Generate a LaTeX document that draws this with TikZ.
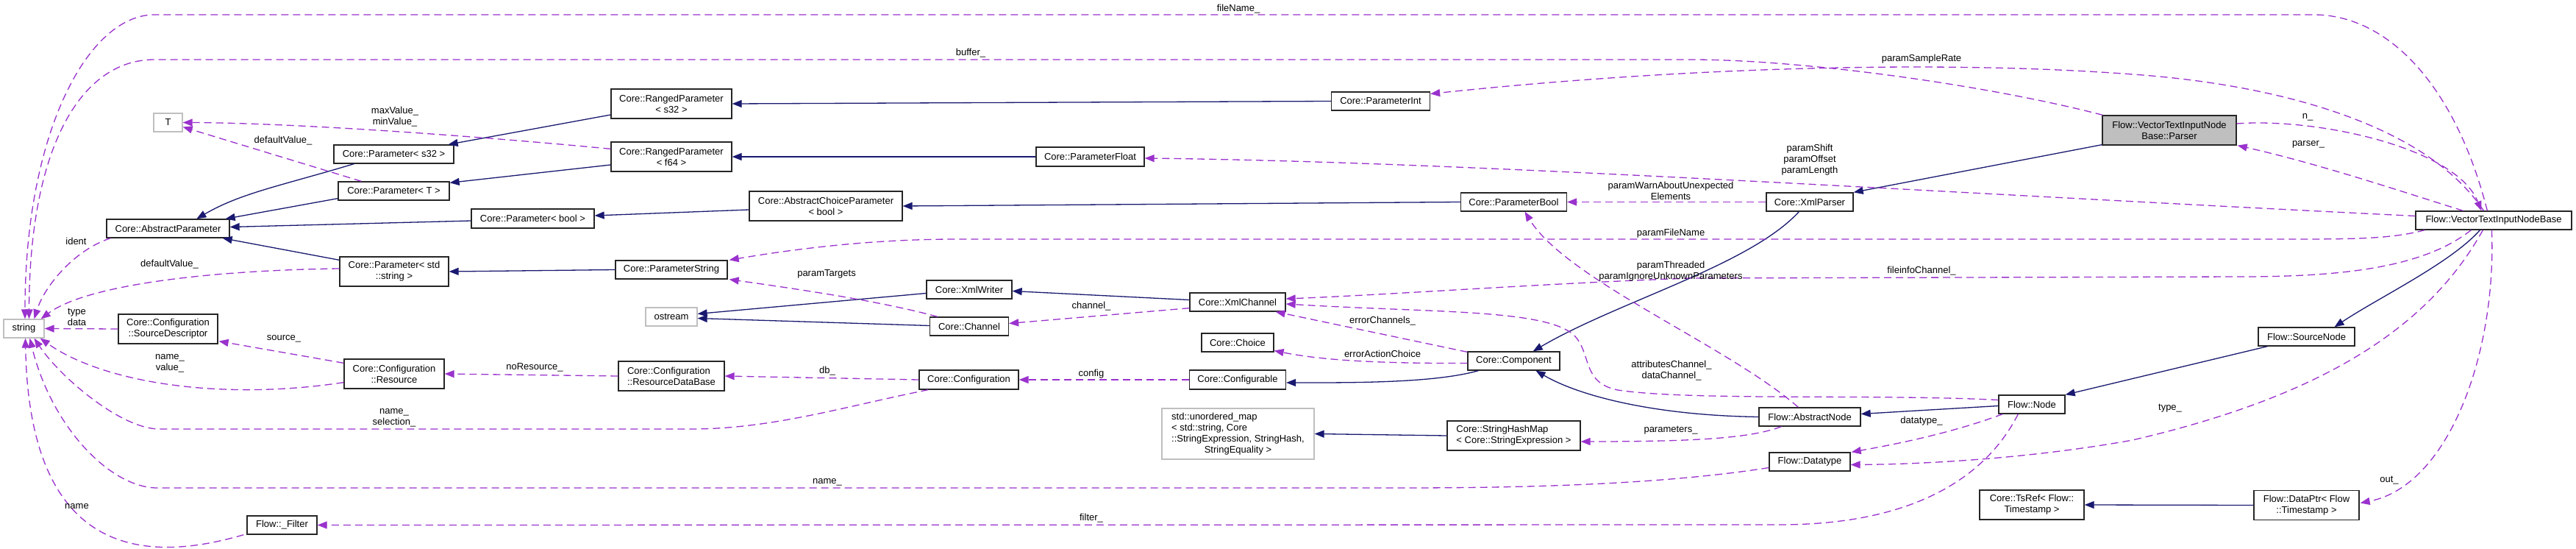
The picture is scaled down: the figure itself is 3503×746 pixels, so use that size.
\documentclass[tikz,border=0pt]{standalone}
\usepackage{fontspec}
\setmainfont{Liberation Sans}
\usetikzlibrary{arrows.meta,calc}
\definecolor{navy}{HTML}{191970}
\definecolor{purp}{HTML}{9A32CD}
\definecolor{gbord}{HTML}{BFBFBF}
\newcommand\dfont{\fontsize{13}{15}\selectfont}
\tikzset{
  cls/.style={draw=black!85, line width=1.3pt, fill=white, inner sep=0pt, align=center, font=\dfont, minimum height=25pt},
  cls2/.style={cls, minimum height=40pt},
  gcls/.style={cls, draw=gbord},
  inh/.style={draw=navy, line width=1.3pt, line join=round, -{Triangle[length=13pt,width=10pt]}},
  usage/.style={draw=purp, line width=1.3pt, dash pattern=on 10pt off 6pt, -{Triangle[length=13pt,width=10pt]}},
  lbl/.style={font=\dfont, inner sep=0pt, align=center},
}
\begin{document}
\begin{tikzpicture}[x=1pt,y=-1pt]
\path[use as bounding box, fill=white] (0,0) rectangle (3503,746);
% nodes
\node[gcls, minimum width=39pt] (T) at (228.5,166.5) {T};
\node[cls, minimum width=163pt] (Ps32) at (535.5,209.5) {Core::Parameter< s32 >};
\node[cls, minimum width=151pt] (PT) at (535.5,259.5) {Core::Parameter< T >};
\node[cls, minimum width=167pt] (AbsP) at (228.5,310.5) {Core::AbstractParameter};
\node[cls2, minimum width=148pt] (Pstr) at (536,369) {Core::Parameter< std\\::string >};
\node[gcls, minimum width=55pt] (str) at (32.5,446.5) {string};
\node[cls2, minimum width=135pt] (SrcDesc) at (228.5,447) {Core::Configuration\\::SourceDescriptor};
\node[cls2, minimum width=136pt] (Res) at (536,508) {Core::Configuration\\::Resource};
\node[cls, minimum width=95pt] (Filter) at (383.5,713.5) {Flow::\_Filter};
\node[cls2, minimum width=164pt] (RPs32) at (913,141) {Core::RangedParameter\\< s32 >};
\node[cls2, minimum width=164pt] (RPf64) at (913,213) {Core::RangedParameter\\< f64 >};
\node[cls, minimum width=167pt, minimum height=26pt] (Pbool) at (724.5,297) {Core::Parameter< bool >};
\node[cls2, minimum width=208pt] (ACP) at (1123,280) {Core::AbstractChoiceParameter\\< bool >};
\node[cls, minimum width=152pt] (PStr) at (913,366.5) {Core::ParameterString};
\node[gcls, minimum width=70pt] (ostream) at (913,430.5) {ostream};
\node[cls2, minimum width=144pt, align=left] (RDB) at (913,511) {Core::Configuration\\::ResourceDataBase};
\node[cls, minimum width=147pt, minimum height=26pt] (PFloat) at (1482.5,213) {Core::ParameterFloat};
\node[cls, minimum width=116pt] (XmlWriter) at (1318,393.5) {Core::XmlWriter};
\node[cls, minimum width=107pt] (Channel) at (1318,443.5) {Core::Channel};
\node[cls, minimum width=135pt, minimum height=26pt] (Config) at (1317.5,516) {Core::Configuration};
\node[cls, minimum width=130pt] (XmlChannel) at (1683,410.5) {Core::XmlChannel};
\node[cls, minimum width=98pt] (Choice) at (1683,465.5) {Core::Choice};
\node[cls, minimum width=131pt, minimum height=26pt] (Configurable) at (1683,516) {Core::Configurable};
\node[gcls, minimum width=207pt, minimum height=69pt] (umap) at (1683.5,589.5) {\begin{tabular}{@{}l@{}}std::unordered\_map\\< std::string, Core\\::StringExpression, StringHash,\\\multicolumn{1}{@{}c@{}}{StringEquality >}\end{tabular}};
\node[cls, minimum width=134pt] (PInt) at (1877.5,137.5) {Core::ParameterInt};
\node[cls, minimum width=144pt] (PBool) at (2058.5,274.5) {Core::ParameterBool};
\node[cls, minimum width=125pt] (Component) at (2058.5,490.5) {Core::Component};
\node[cls2, minimum width=181pt, align=left] (SHM) at (2058.5,592) {Core::StringHashMap\\< Core::StringExpression >};
\node[cls, minimum width=118pt] (XmlParser) at (2461,274.5) {Core::XmlParser};
\node[cls2, minimum width=182pt, fill=gbord] (Parser) at (2950,177) {Flow::VectorTextInputNode\\Base::Parser};
\node[cls, minimum width=138pt] (AbsNode) at (2461,566.5) {Flow::AbstractNode};
\node[cls, minimum width=110pt] (Datatype) at (2461,627.5) {Flow::Datatype};
\node[cls, minimum width=90pt] (Node) at (2763,549.5) {Flow::Node};
\node[cls2, minimum width=142pt] (TsRef) at (2763,686) {Core::TsRef< Flow::\\Timestamp >};
\node[cls, minimum width=212pt] (VTINB) at (3391,299.5) {Flow::VectorTextInputNodeBase};
\node[cls, minimum width=131pt] (SrcNode) at (3136.5,457.5) {Flow::SourceNode};
\node[cls2, minimum width=143pt] (DataPtr) at (3136.5,686.5) {Flow::DataPtr< Flow\\::Timestamp >};
% inheritance
\draw[inh] ($(Ps32.south west)+(28,0)$) .. controls +(-100,30) and +(60,-35) .. ($(AbsP.north west)+(123,0)$);
\draw[inh] ($(PT.south west)+(0,-3)$) -- ($(AbsP.north east)+(-6,0)$);
\draw[inh] ($(Pbool.west)+(0,3)$) -- ($(AbsP.east)+(0,-2)$);
\draw[inh] ($(Pstr.north west)+(0,5)$) -- ($(AbsP.south east)+(-10,0)$);
\draw[inh] ($(RPs32.west)+(0,15)$) -- ($(Ps32.north east)+(-8,0)$);
\draw[inh] ($(RPf64.west)+(0,11)$) -- ($(PT.north east)+(0,2)$);
\draw[inh] (PInt.west) -- (RPs32.east);
\draw[inh] (PFloat.west) -- (RPf64.east);
\draw[inh] ($(ACP.west)+(0,5)$) -- ($(Pbool.east)+(0,-4)$);
\draw[inh] (PBool.west) -- (ACP.east);
\draw[inh] (PStr.west) -- (Pstr.east);
\draw[inh] ($(XmlWriter.west)+(0,5)$) -- ($(ostream.east)+(0,-4)$);
\draw[inh] ($(Channel.west)+(0,-1)$) -- ($(ostream.east)+(0,2)$);
\draw[inh] ($(XmlChannel.west)+(0,-3)$) -- ($(XmlWriter.east)+(0,2)$);
\draw[inh] ($(Component.south west)+(15,0)$) .. controls +(-60,17) and +(90,0) .. ($(Configurable.east)+(0,4)$);
\draw[inh] ($(XmlParser.south west)+(45,0)$) .. controls +(-67,73) and +(116,-68) .. ($(Component.north east)+(-37,0)$);
\draw[inh] ($(Parser.south west)+(0,-1)$) -- (XmlParser.north east);
\draw[inh] (AbsNode.west) .. controls +(-140,-2) and +(60,35) .. ($(Component.south)+(30,0)$);
\draw[inh] ($(Node.west)+(0,2)$) -- ($(AbsNode.east)+(0,-4)$);
\draw[inh] ($(SrcNode.south west)+(13,0)$) -- (Node.north east);
\draw[inh] ($(VTINB.south west)+(88,0)$) .. controls +(-40,45) and +(60,-40) .. ($(SrcNode.north)+(38,0)$);
\draw[inh] (SHM.west) -- (umap.east);
\draw[inh] (DataPtr.west) -- (TsRef.east);
% usage
\draw[usage] ($(VTINB.north west)+(98,0)$) .. controls (3340,120) and (3250,20) .. (3146,20) -- (210,20) .. controls (120,20) and (34,180) .. ($(str.north)+(1.5,0)$);
\draw[usage] ($(Parser.north west)+(1,0)$) .. controls (2700,115) and (2450,81) .. (2300,81) -- (210,81) .. controls (110,81) and (40,200) .. ($(str.north)+(7,0)$);
\draw[usage] ($(VTINB.north west)+(93,0)$) .. controls (3300,170) and (3100,115) .. (2900,101) .. controls (2650,82) and (2300,90) .. ($(PInt.east)+(0,-10)$);
\draw[usage] ($(Parser.east)+(0,-9)$) .. controls (3150,160) and (3340,200) .. ($(VTINB.north west)+(90,0)$);
\draw[usage] ($(VTINB.north west)+(65,0)$) .. controls (3250,255) and (3150,222) .. ($(Parser.south east)+(1,0)$);
\draw[usage] ($(AbsP.south west)+(6,0)$) .. controls (100,340) and (60,390) .. ($(str.north)+(14,0)$);
\draw[usage] ($(Pstr.west)+(0,-4)$) .. controls (300,367) and (120,385) .. ($(str.north east)+(-5,0)$);
\draw[usage] ($(PT.north west)+(32,0)$) -- ($(T.east)+(0,6)$);
\draw[usage] ($(RPf64.north west)+(0,10)$) .. controls (650,185) and (400,167) .. (T.east);
\draw[usage] (SrcDesc.west) -- (str.east);
\draw[usage] ($(Res.north west)+(0,6)$) -- ($(SrcDesc.south east)+(1,-4)$);
\draw[usage] ($(Res.south west)+(0,-9)$) .. controls (300,545) and (140,520) .. ($(str.south east)+(-6,0)$);
\draw[usage] (RDB.west) -- (Res.east);
\draw[usage] (Config.west) -- (RDB.east);
\draw[usage] (Configurable.west) -- (Config.east);
\draw[usage] ($(Config.south west)+(13,0)$) .. controls (1150,552) and (1050,583) .. (940,583) -- (214,583) .. controls (160,580) and (80,510) .. ($(str.south)+(14,0)$);
\draw[usage] ($(Datatype.west)+(0,8)$) .. controls (2250,660) and (2050,663) .. (1900,663) -- (214,663) .. controls (150,663) and (70,580) .. ($(str.south)+(8,0)$);
\draw[usage] ($(Filter.south west)+(-4,0)$) .. controls (200,765) and (40,760) .. ($(str.south)+(2,0)$);
\draw[usage] ($(Node.south west)+(27,0)$) .. controls (2700,650) and (2600,713) .. (2420,713) -- (Filter.east);
\draw[usage] ($(Node.south west)+(6,0)$) .. controls (2650,590) and (2570,605) .. ($(Datatype.north east)+(1,0)$);
\draw[usage] ($(VTINB.south west)+(92,0)$) .. controls (3300,450) and (3150,540) .. (2900,598) .. controls (2750,625) and (2600,631) .. ($(Datatype.east)+(0,4)$);
\draw[usage] ($(VTINB.south west)+(104,0)$) .. controls (3395,480) and (3330,660) .. ($(DataPtr.east)+(1,-3)$);
\draw[usage] ($(VTINB.south west)+(13,0)$) .. controls (3250,325) and (3200,325) .. (3100,325) -- (1300,325) .. controls (1200,325) and (1100,335) .. ($(PStr.north east)+(2,0)$);
\draw[usage] ($(VTINB.west)+(0,-6)$) .. controls (2600,260) and (2000,220) .. ($(PFloat.east)+(0,2)$);
\draw[usage] (XmlParser.west) -- (PBool.east);
\draw[usage] ($(AbsNode.north west)+(54,0)$) .. controls (2350,470) and (2130,380) .. ($(PBool.south)+(15,0)$);
\draw[usage] ($(Channel.north west)+(11,0)$) .. controls (1200,410) and (1100,395) .. ($(PStr.south east)+(2,0)$);
\draw[usage] ($(XmlChannel.south west)+(0,-5)$) -- ($(Channel.east)+(0,-4)$);
\draw[usage] ($(Component.north west)+(0,1)$) -- ($(XmlChannel.south east)+(-14,0)$);
\draw[usage] ($(Component.west)+(0,3)$) .. controls (1880,494) and (1800,490) .. ($(Choice.east)+(0,11)$);
\draw[usage] ($(Node.west)+(0,-6)$) .. controls (2550,535) and (2300,545) .. (2200,530) .. controls (2150,520) and (2165,480) .. (2140,455) .. controls (2100,420) and (1950,425) .. ($(XmlChannel.east)+(0,2.5)$);
\draw[usage] ($(VTINB.south west)+(76,0)$) .. controls (3300,360) and (3200,376) .. (3050,376) -- (2300,378) .. controls (2100,385) and (1900,400) .. ($(XmlChannel.east)+(0,-4.5)$);
\draw[usage] ($(AbsNode.south west)+(31,0)$) .. controls (2380,596) and (2300,600) .. ($(SHM.east)+(0,8)$);
% labels
\node[lbl] (l1) at (1684,12) {fileName\_};
\node[lbl] (l2) at (1320,72) {buffer\_};
\node[lbl] (l3) at (2613,80) {paramSampleRate};
\node[lbl] (l4) at (3138,159) {n\_};
\node[lbl] (l5) at (3139,196) {parser\_};
\node[lbl] (l6) at (537,159) {maxValue\_\\minValue\_};
\node[lbl] (l7) at (385,191) {defaultValue\_};
\node[lbl] (l8) at (103.5,328) {ident};
\node[lbl] (l9) at (230.5,359) {defaultValue\_};
\node[lbl] (l10) at (104.5,431) {type\\data};
\node[lbl] (l11) at (386,460) {source\_};
\node[lbl] (l12) at (231,494) {name\_\\value\_};
\node[lbl] (l13) at (536,567.5) {name\_\\selection\_};
\node[lbl] (l14) at (104.5,688) {name};
\node[lbl] (l15) at (727,499) {noResource\_};
\node[lbl] (l16) at (1125,504) {db\_};
\node[lbl] (l17) at (1124,372) {paramTargets};
\node[lbl] (l18) at (1125,655) {name\_};
\node[lbl] (l19) at (1484,508) {config};
\node[lbl] (l20) at (1484,416) {channel\_};
\node[lbl] (l21) at (1484,704) {filter\_};
\node[lbl] (l22) at (1880,436) {errorChannels\_};
\node[lbl] (l23) at (1880,481) {errorActionChoice};
\node[lbl] (l24) at (2273,504) {attributesChannel\_\\dataChannel\_};
\node[lbl] (l25) at (2272,585) {parameters\_};
\node[lbl] (l26) at (2461,217) {paramShift\\paramOffset\\paramLength};
\node[lbl] (l27) at (2272,259) {paramWarnAboutUnexpected\\Elements};
\node[lbl] (l28) at (2272,368.5) {paramThreaded\\paramIgnoreUnknownParameters};
\node[lbl] (l29) at (2272,317) {paramFileName};
\node[lbl] (l30) at (2613,368) {fileinfoChannel\_};
\node[lbl] (l31) at (2613,572) {datatype\_};
\node[lbl] (l32) at (2951,555) {type\_};
\node[lbl] (l33) at (3249,653) {out\_};
\end{tikzpicture}
\end{document}
